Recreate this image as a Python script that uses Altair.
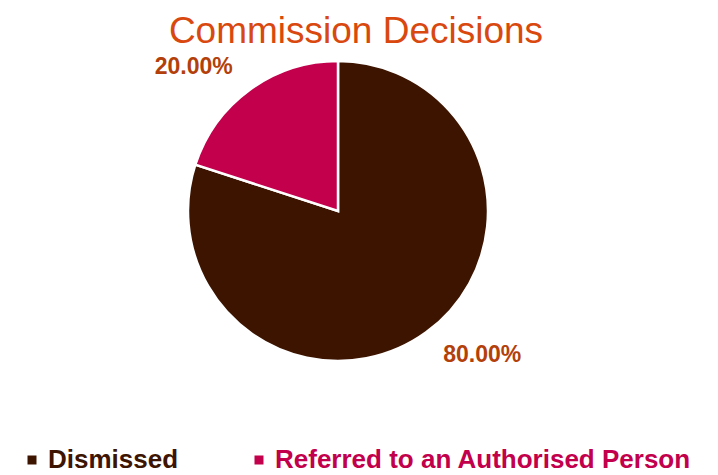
import altair as alt
import pandas as pd

categories = ["Dismissed", "Referred to an Authorised Person"]
values = [80, 20]
labels = ["80.00%", "20.00%"]
colors = ["#3c1400", "#c2004b"]

df = pd.DataFrame({"category": categories, "value": values, "label": labels})

base = alt.Chart(df).encode(
    theta=alt.Theta("value:Q", stack=True),
    order=alt.Order("category:N", sort="ascending"),
)

pie = base.mark_arc(outerRadius=150, stroke="white", strokeWidth=2.5).encode(
    color=alt.Color(
        "category:N",
        scale=alt.Scale(domain=categories, range=colors),
        legend=alt.Legend(
            title=None,
            orient="none",
            legendX=11,
            legendY=399,
            direction="horizontal",
            columns=2,
            columnPadding=67,
            symbolType="square",
            symbolSize=81,
            symbolStrokeWidth=0,
            labelOffset=3,
            labelFont="Liberation Sans",
            labelFontWeight="bold",
            labelFontSize=26,
            labelLimit=600,
            padding=0,
            labelColor={"expr": "datum.label == 'Dismissed' ? '#3c1400' : '#c2004b'"},
        ),
    )
)

text = base.mark_text(
    radius=204,
    thetaOffset=-0.157,
    font="Liberation Sans",
    fontSize=23,
    fontWeight="bold",
    color="#b3400a",
).encode(text="label:N")

chart = (
    alt.layer(pie, text)
    .properties(
        width=660,
        height=326,
        padding={"top": 40, "left": 0, "right": 40, "bottom": 100},
        autosize=alt.AutoSizeParams(type="none"),
        title=alt.TitleParams(
            "Commission Decisions",
            font="Liberation Sans",
            fontSize=37,
            fontWeight="normal",
            color="#d9480f",
            offset=-3,
            dx=18,
            anchor="middle",
        ),
    )
    .configure_view(stroke=None)
)

chart.save("out.html", embed_options={"renderer": "svg", "actions": False})
